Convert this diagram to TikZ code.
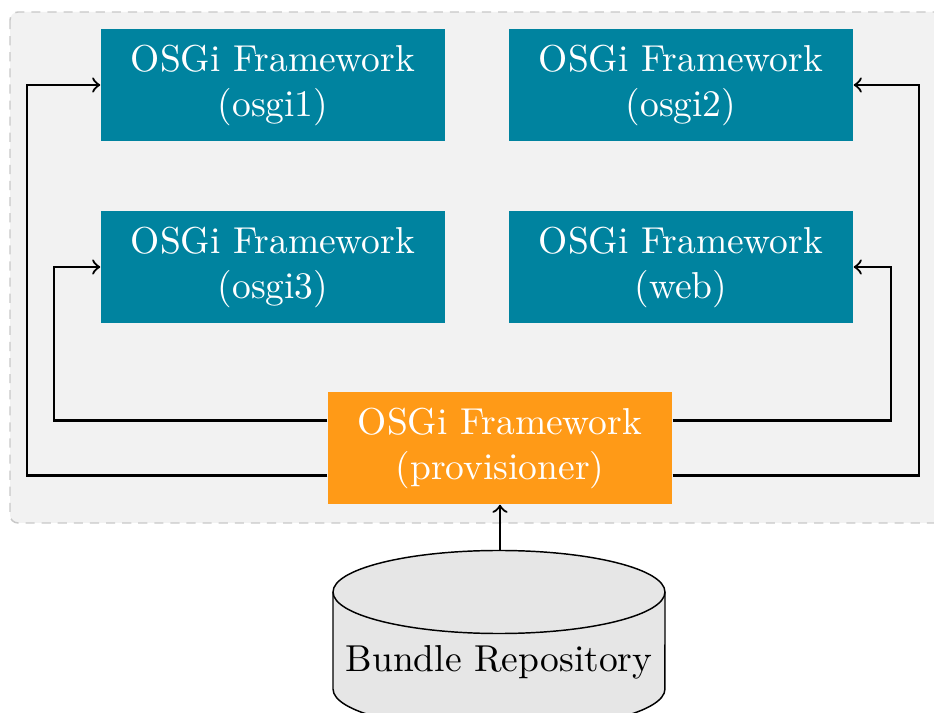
\documentclass[tikz,border=0pt]{standalone}
\usetikzlibrary{calc}
\definecolor{fwteal}{HTML}{00839F}
\definecolor{fworange}{HTML}{FF9A17}
\definecolor{panelbg}{HTML}{F2F2F2}
\definecolor{panelline}{HTML}{C8C8C8}
\definecolor{repofill}{HTML}{E6E6E6}
\tikzset{
  every node/.style={font=\fontsize{10.25pt}{12.3pt}\selectfont},
  fw/.style={rectangle, fill=fwteal, text=white, align=center, inner sep=0pt,
    minimum width=94.05pt, minimum height=30.62pt},
  prov/.style={fw, fill=fworange},
  conn/.style={->, semithick},
  panel/.style={fill=panelbg, draw=panelline, dash pattern=on 2.5pt off 1.9pt,
    rounded corners=2.2pt},
}
\begin{document}
\begin{tikzpicture}[x=0.2734pt, y=-0.2734pt]
  \useasboundingbox (0,0) rectangle (934,713);
  \clip (0,0) rectangle (934,713);

  % shaded panel holding the frameworks
  \draw[panel] (10,12) rectangle (980,523);

  % frameworks
  \node[fw] (o1) at (273,85) {OSGi Framework\\(osgi1)};
  \node[fw] (o2) at (681,85) {OSGi Framework\\(osgi2)};
  \node[fw] (o3) at (273,267) {OSGi Framework\\(osgi3)};
  \node[fw] (web) at (681,267) {OSGi Framework\\(web)};
  \node[prov] (prov) at (500,448) {OSGi Framework\\(provisioner)};

  % provisioning links
  \draw[conn] ([yshift=-7.5pt]prov.west) -| ([xshift=-19.96pt]o1.west) -- (o1.west);
  \draw[conn] ([yshift=7.5pt]prov.west) -| ([xshift=-12.58pt]o3.west) -- (o3.west);
  \draw[conn] ([yshift=7.5pt]prov.east) -| ([xshift=10.12pt]web.east) -- (web.east);
  \draw[conn] ([yshift=-7.5pt]prov.east) -| ([xshift=17.77pt]o2.east) -- (o2.east);

  % bundle repository cylinder
  \fill[repofill] (333,592) -- (333,689)
    arc[start angle=180, end angle=360, x radius=45.38pt, y radius=11.35pt]
    -- (665,592) -- cycle;
  \draw (333,592) -- (333,689)
    arc[start angle=180, end angle=360, x radius=45.38pt, y radius=11.35pt]
    -- (665,592);
  \filldraw[fill=repofill] (499,592) ellipse [x radius=45.38pt, y radius=11.35pt];
  \coordinate (repotop) at (prov.south |- 0,551);
  \node (repo) at (499,662) {Bundle Repository};

  \draw[conn] (repotop) -- (prov.south);
\end{tikzpicture}
\end{document}
